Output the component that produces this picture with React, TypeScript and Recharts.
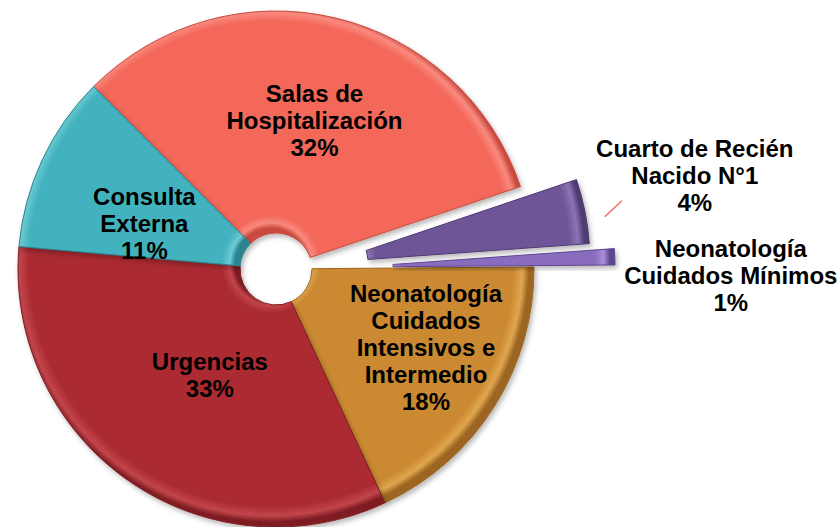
import React from 'react';
import { PieChart, Pie, Cell } from 'recharts';

const categories = [
  'Salas de Hospitalización',
  'Cuarto de Recién Nacido N°1',
  'Neonatología Cuidados Mínimos',
  'Neonatología Cuidados Intensivos e Intermedio',
  'Urgencias',
  'Consulta Externa',
];
const labelLines = [
  ['Salas de', 'Hospitalización'],
  ['Cuarto de Recién', 'Nacido N°1'],
  ['Neonatología', 'Cuidados Mínimos'],
  ['Neonatología', 'Cuidados', 'Intensivos e', 'Intermedio'],
  ['Urgencias'],
  ['Consulta', 'Externa'],
];
const values = [32, 4, 1, 18, 33, 11];

const colors = ['#F4675A', '#6E5597', '#8A6CBE', '#CB8A30', '#AC2C32', '#43B3BE'];
const lightColors = ['#F98A7E', '#8C74B5', '#A98EDB', '#E0A650', '#C2454B', '#6CCAD3'];
const edgeColors = ['#C94A3F', '#4F3B72', '#5E4690', '#9C6620', '#7E1D22', '#2A8590'];

// 0 = main ring, 1 and 2 = the two pulled-out slices
const sliceGroup = [0, 1, 2, 0, 0, 0];
const groupCenters = [
  { cx: 271, cy: 264 },
  { cx: 327, cy: 257 },
  { cx: 352, cy: 262 },
];
const INNER = 36;
const OUTER = 258;
// label placement (px from pie centre, degrees of nudge from mid angle)
const labelRadius = [150, 372, 374, 171, 128, 138];
const labelNudge = [-1.7, 1.4, -4.1, 3.6, 3.9, 7.5];

const data = categories.map((name, i) => ({ name, value: values[i] }));

const RAD = Math.PI / 180;
const FONT = 24;
const LH = 27;

const makeLabel = (group: number) => (props: any) => {
  const { cx, cy, midAngle, index, value } = props;
  if (sliceGroup[index] !== group) return null;
  const a = (midAngle + labelNudge[index]) * RAD;
  const x = cx + labelRadius[index] * Math.cos(a);
  const y = cy - labelRadius[index] * Math.sin(a);
  const lines = [...labelLines[index], `${value}%`];
  const top = y - ((lines.length - 1) * LH) / 2 + FONT * 0.36 - 4;
  return (
    <g>
      {index === 1 && (
        <line x1={x - 90} y1={y + 37} x2={x - 73} y2={y + 21} stroke="#F4675A" strokeWidth={1.5} />
      )}
      <text
        x={x}
        y={top}
        textAnchor="middle"
        fontFamily="'Liberation Sans', Arial, sans-serif"
        fontWeight="bold"
        fontSize={FONT}
        fill="#000"
      >
        {lines.map((l, k) => (
          <tspan key={k} x={x} dy={k === 0 ? 0 : LH}>
            {l}
          </tspan>
        ))}
      </text>
    </g>
  );
};

export default function App() {
  const f0 = INNER / OUTER;
  return (
    <div style={{ position: 'absolute', left: 0, top: 0, background: '#fff' }}>
      <PieChart width={839} height={527}>
        <defs>
          <filter id="shadow" x="-20%" y="-20%" width="140%" height="140%">
            <feDropShadow dx="2" dy="3" stdDeviation="2.5" floodColor="#000" floodOpacity="0.28" />
          </filter>
          {groupCenters.map((c, g) =>
            colors.map((col, i) =>
              sliceGroup[i] === g ? (
                <radialGradient
                  key={`${g}-${i}`}
                  id={`bevel-${g}-${i}`}
                  gradientUnits="userSpaceOnUse"
                  cx={c.cx}
                  cy={c.cy}
                  r={OUTER}
                >
                  <stop offset={f0} stopColor={edgeColors[i]} />
                  <stop offset={f0 + 0.02} stopColor={lightColors[i]} />
                  <stop offset={f0 + 0.05} stopColor={col} />
                  <stop offset={0.94} stopColor={col} />
                  <stop offset={0.975} stopColor={lightColors[i]} />
                  <stop offset={1} stopColor={edgeColors[i]} />
                </radialGradient>
              ) : null
            )
          )}
        </defs>
        {groupCenters.map((c, g) => (
          <Pie
            key={g}
            data={data}
            dataKey="value"
            nameKey="name"
            cx={c.cx}
            cy={c.cy}
            innerRadius={INNER}
            outerRadius={OUTER}
            startAngle={135}
            endAngle={-225}
            label={makeLabel(g)}
            labelLine={false}
            isAnimationActive={false}
          >
            {data.map((d, i) =>
              sliceGroup[i] === g ? (
                <Cell
                  key={i}
                  fill={`url(#bevel-${g}-${i})`}
                  stroke={edgeColors[i]}
                  strokeWidth={1}
                  filter="url(#shadow)"
                />
              ) : (
                <Cell key={i} fill="none" stroke="none" />
              )
            )}
          </Pie>
        ))}
      </PieChart>
    </div>
  );
}
